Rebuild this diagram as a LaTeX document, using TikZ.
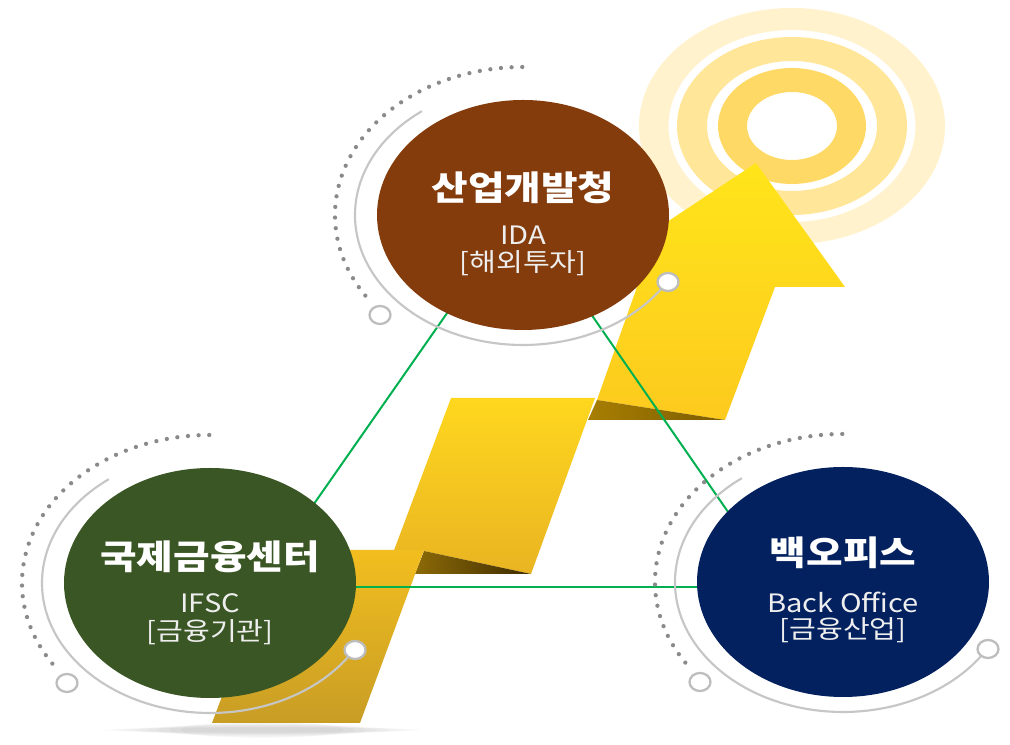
\documentclass[tikz,border=0pt]{standalone}
\usepackage{fontspec}
\newfontfamily\krfont{Noto Sans CJK KR}[FakeStretch=1.15]
\newfontfamily\krtitle{Noto Sans CJK KR}[FakeStretch=1.17]
\usetikzlibrary{shapes.geometric}

\definecolor{brownhub}{HTML}{843C0C}
\definecolor{greenhub}{HTML}{3A5624}
\definecolor{navyhub}{HTML}{03205F}
\definecolor{linkgreen}{HTML}{00B050}
\definecolor{dotgray}{HTML}{8A8A8A}
\definecolor{orbitgray}{HTML}{C6C6C6}
\definecolor{knobgray}{HTML}{BDBDBD}
\definecolor{sunA}{HTML}{FFF2CC}
\definecolor{sunB}{HTML}{FFE699}
\definecolor{sunC}{HTML}{FFD966}
\definecolor{tiptop}{HTML}{FFE51A}
\definecolor{tipbot}{HTML}{FDCA1E}
\definecolor{midtop}{HTML}{FFD71E}
\definecolor{midbot}{HTML}{E9B422}
\definecolor{lowtop}{HTML}{F2BE1F}
\definecolor{lowbot}{HTML}{C89D25}
\definecolor{foldAl}{HTML}{8C6A08}
\definecolor{foldAr}{HTML}{3E2B00}
\definecolor{foldBl}{HTML}{A87E02}
\definecolor{foldBr}{HTML}{7C5C00}
\definecolor{subtext}{HTML}{EEEEEE}

% orbit decoration around one hub: dotted outer arc, thin inner arc, two knobs
\newcommand\hubdeco[1]{%
  \begin{scope}[shift={(#1)}]
    \draw[dots] (213:188 and 148) arc[start angle=213, end angle=88, x radius=188, y radius=148];
    \draw[orbit] (127:168 and 130) arc[start angle=127, end angle=329, x radius=168, y radius=130];
    \draw[knob] (145,-67) ellipse [x radius=10.5, y radius=9];
    \draw[knob] (-143,-100) ellipse [x radius=10.5, y radius=9];
  \end{scope}}

\begin{document}
\begin{tikzpicture}[x=0.75pt,y=0.75pt,
  hub/.style={ellipse, inner sep=0pt, outer sep=0pt, minimum width=219pt, minimum height=172.5pt},
  title/.style={text=white, inner sep=0pt, font=\krtitle\bfseries\fontsize{25.5}{29}\selectfont},
  sub/.style={text=subtext, inner sep=0pt, font=\krfont\fontsize{19}{22}\selectfont},
  link/.style={draw=linkgreen, line width=1.5pt},
  dots/.style={draw=dotgray, line width=3.2pt, line cap=round, dash pattern=on 0pt off 8pt},
  orbit/.style={draw=orbitgray, line width=1.6pt},
  knob/.style={draw=knobgray, line width=1.7pt, fill=white}]

\useasboundingbox (0,0) rectangle (1010,745);
\fill[white] (0,0) rectangle (1010,745);

% hub centres
\coordinate (ptop) at (523,530);
\coordinate (pleft) at (210,162);
\coordinate (pright) at (843,163);

% concentric sun rings
\fill[sunA, even odd rule] (792,619) ellipse [x radius=153, y radius=118] (792,619) ellipse [x radius=123.5, y radius=96];
\fill[sunB, even odd rule] (792,619) ellipse [x radius=115, y radius=89] (792,619) ellipse [x radius=85, y radius=65];
\fill[sunC, even odd rule] (792,619) ellipse [x radius=74, y radius=58] (792,619) ellipse [x radius=45, y radius=34];

% soft shadow under the arrow foot
\foreach \k in {1,...,8}
  \fill[black, opacity=0.02] (262,15) ellipse [x radius={170-11*\k}, y radius={1.5+0.8*\k}];

% rising zig-zag arrow
\shade[top color=tiptop, bottom color=tipbot]
  (597,345) -- (637,458) -- (569,458) -- (756,582) -- (845,458) -- (775,458) -- (725,325) -- cycle;
\shade[left color=foldBl, right color=foldBr] (597,345) -- (725,325) -- (588,325) -- cycle;
\shade[top color=midtop, bottom color=midbot]
  (393,192) -- (451,347) -- (595,347) -- (531,171) -- (424,194) -- (420,192) -- cycle;
\shade[left color=foldAl, right color=foldAr] (424,194) -- (531,171) -- (415,171) -- cycle;
\shade[top color=lowtop, bottom color=lowbot] (212,22) -- (360,22) -- (424,195) -- (277,195) -- cycle;

% links between the three hubs
\coordinate (gA) at ([shift={(-4,5)}]ptop);
\coordinate (gB) at ([shift={(46,-4)}]pleft);
\coordinate (gC) at ([shift={(-63,-5)}]pright);
\draw[link] (gA) -- (gB);
\draw[link] (gA) -- (gC);
\draw[link] (gB) -- (gC);

% hubs
\node[hub, fill=brownhub] (ctop) at (ptop) {};
\node[hub, fill=greenhub] (cleft) at (pleft) {};
\node[hub, fill=navyhub] (cright) at (pright) {};

\hubdeco{ctop.center}
\hubdeco{cleft.center}
\hubdeco{cright.center}

% labels
\node[title] (ttop) at ([yshift=20.25pt]ctop.center) {산업개발청};
\node[sub] (stop) at ([yshift=-15pt]ctop.center) {IDA};
\node[sub] (rtop) at ([yshift=-36pt]ctop.center) {[해외투자]};

\node[title] (tleft) at ([yshift=19.5pt]cleft.center) {국제금융센터};
\node[sub] (sleft) at ([yshift=-15pt]cleft.center) {IFSC};
\node[sub] (rleft) at ([yshift=-37pt]cleft.center) {[금융기관]};

\node[title] (tright) at ([yshift=22pt]cright.center) {백오피스};
\node[sub] (sright) at ([yshift=-15pt]cright.center) {Back Office};
\node[sub] (rright) at ([yshift=-36pt]cright.center) {[금융산업]};
\end{tikzpicture}
\end{document}
